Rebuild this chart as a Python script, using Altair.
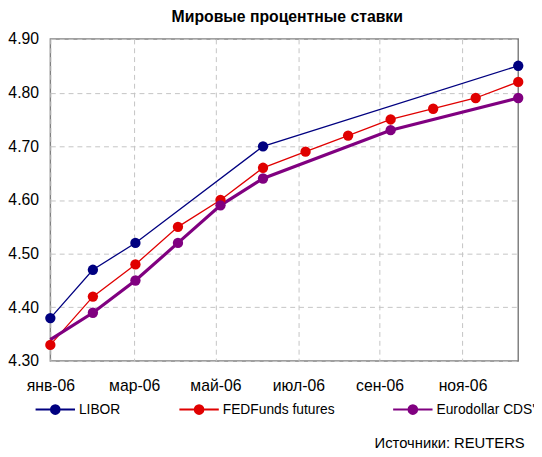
import altair as alt
import pandas as pd

# ---- data ----
series_names = ["LIBOR", "FEDFunds futures", "Eurodollar CDS'"]
series_colors = ["#000080", "#e00000", "#800080"]

libor_month = [0, 1, 2, 5, 11]
libor_rate = [4.38, 4.47, 4.52, 4.70, 4.85]

fed_month = [0, 1, 2, 3, 4, 5, 6, 7, 8, 9, 10, 11]
fed_rate = [4.33, 4.42, 4.48, 4.55, 4.60, 4.66, 4.69, 4.72, 4.75, 4.77, 4.79, 4.82]

euro_month = [0, 1, 2, 3, 4, 5, 8, 11]
euro_rate = [4.34, 4.39, 4.45, 4.52, 4.59, 4.64, 4.73, 4.79]
euro_marker = [False, True, True, True, True, True, True, True]

tick_pos = [0, 1.97, 3.88, 5.83, 7.74, 9.69]
tick_labels = ["янв-06", "мар-06", "май-06", "июл-06", "сен-06", "ноя-06"]

y_ticks = [4.30, 4.40, 4.50, 4.60, 4.70, 4.80, 4.90]

rows = []
for m, r in zip(libor_month, libor_rate):
    rows.append({"series": series_names[0], "month": m, "rate": r, "marker": True})
for m, r in zip(fed_month, fed_rate):
    rows.append({"series": series_names[1], "month": m, "rate": r, "marker": True})
for m, r, k in zip(euro_month, euro_rate, euro_marker):
    rows.append({"series": series_names[2], "month": m, "rate": r, "marker": k})
df = pd.DataFrame(rows)

label_expr = "{}[indexof({}, datum.value)]".format(
    "[" + ",".join("'" + t + "'" for t in tick_labels) + "]",
    "[" + ",".join(str(p) for p in tick_pos) + "]",
)

sym_path = "M-1,0H1M-0.22,0A0.22,0.22,0,1,1,0.22,0A0.22,0.22,0,1,1,-0.22,0Z"

def legend():
    return alt.Legend(
        title=None, orient="none", legendX=-16, legendY=355,
        direction="horizontal", symbolType=sym_path, symbolSize=1600,
        symbolStrokeWidth=2,
        labelFontSize=14, labelOffset=3, columnPadding=55, padding=0,
        labelColor="black", labelFont="Liberation Sans", labelLimit=300,
    )

x_enc = alt.X(
    "month:Q",
    scale=alt.Scale(domain=[0, 11], nice=False, zero=False),
    axis=alt.Axis(
        values=tick_pos, labelExpr=label_expr, title="Источники: REUTERS",
        titleFont="Liberation Sans", titleFontSize=15, titleFontWeight="normal",
        titleColor="black", titleAnchor="end", titleAlign="right",
        titleBaseline="alphabetic", titleX=481, titleY=88,
        labelFontSize=16, labelPadding=17, labelFlush=False, labelOverlap=False,
    ),
)
y_enc = alt.Y(
    "rate:Q",
    scale=alt.Scale(domain=[4.30, 4.90], nice=False, zero=False),
    axis=alt.Axis(values=y_ticks, format=".2f", title=None, labelFontSize=16,
                  labelPadding=12),
)

stroke_scale = alt.Scale(domain=series_names, range=series_colors)

lines = alt.Chart(df).mark_line().encode(
    x=x_enc, y=y_enc,
    stroke=alt.Stroke("series:N", scale=stroke_scale, legend=legend()),
    strokeWidth=alt.condition(
        "datum.series === \"Eurodollar CDS'\"", alt.value(3.2), alt.value(1.3)
    ),
    order="month:Q",
)

points = alt.Chart(df).transform_filter("datum.marker").mark_circle(size=110, opacity=1).encode(
    x=x_enc, y=y_enc,
    fill=alt.Fill("series:N", scale=stroke_scale, legend=legend()),
)

chart = alt.layer(lines, points).properties(
    width=475, height=327,
    autosize=alt.AutoSizeParams(type="none"),
    padding={"left": 43, "top": 28, "right": 16, "bottom": 94},
    title=alt.TitleParams(
        "Мировые процентные ставки", fontSize=16, fontWeight="bold",
        font="Liberation Sans", anchor="middle", baseline="alphabetic",
        offset=0, dy=7, dx=3, color="black",
    ),
).configure(font="Liberation Sans", background="white").configure_view(
    stroke="#808080", strokeWidth=1.5
).configure_axis(
    grid=True, gridColor="#c4c4c4", gridDash=[5, 4], gridWidth=1,
    domain=False, ticks=False, labelColor="black", labelFont="Liberation Sans",
)

chart.save("out.html", embed_options={"renderer": "svg", "actions": False})
